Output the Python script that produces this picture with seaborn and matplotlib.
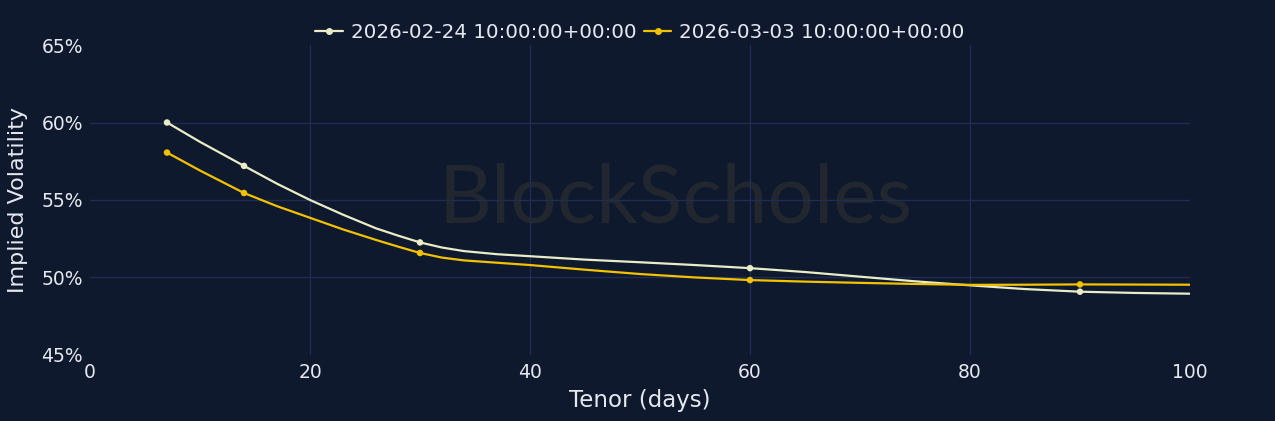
import pandas as pd
import matplotlib
matplotlib.use("Agg")
import matplotlib.pyplot as plt
from matplotlib.lines import Line2D
from matplotlib.ticker import FuncFormatter
import seaborn as sns

# series names
series_names = ["2026-02-24 10:00:00+00:00", "2026-03-03 10:00:00+00:00"]
colors = ["#e9ecc6", "#f2c200"]

# quoted tenors (markers)
tenors = [7, 14, 30, 60, 90]
iv_0224 = [60.0, 57.2, 52.26, 50.6, 49.08]
iv_0303 = [58.06, 55.45, 51.58, 49.83, 49.55]

# fitted term-structure curve
curve_days = [7, 10, 14, 17, 20, 23, 26, 28, 30, 32, 34, 37, 40, 45, 50, 55, 60,
              65, 70, 75, 80, 85, 90, 95, 100]
curve_0224 = [60.0, 58.75, 57.2, 56.05, 55.0, 54.05, 53.17, 52.7, 52.26, 51.93, 51.7, 51.5, 51.37,
              51.15, 50.98, 50.8, 50.6, 50.35, 50.05, 49.75, 49.49, 49.25, 49.08, 49.0, 48.95]
curve_0303 = [58.06, 56.9, 55.45, 54.6, 53.85, 53.1, 52.42, 51.99, 51.58, 51.28, 51.1, 50.95, 50.8,
              50.5, 50.22, 50.0, 49.83, 49.73, 49.65, 49.58, 49.52, 49.53, 49.55, 49.54, 49.53]

BG = "#0e192d"
GRID = "#1f2d54"
TXT = "#e6e8ee"


def main():
    curve = pd.concat([
        pd.DataFrame({"tenor": curve_days, "iv": curve_0224, "series": series_names[0]}),
        pd.DataFrame({"tenor": curve_days, "iv": curve_0303, "series": series_names[1]}),
    ])
    pts = pd.concat([
        pd.DataFrame({"tenor": tenors, "iv": iv_0224, "series": series_names[0]}),
        pd.DataFrame({"tenor": tenors, "iv": iv_0303, "series": series_names[1]}),
    ])
    palette = dict(zip(series_names, colors))

    sns.set_theme(style="dark")
    plt.rcParams["font.family"] = ["DejaVu Sans"]

    fig = plt.figure(figsize=(12.75, 4.21), dpi=100, facecolor=BG)
    ax = fig.add_axes([0.0706, 0.157, 0.8627, 0.736])
    ax.set_facecolor(BG)

    # faint watermark
    ax.text(0.532, 0.5, "BlockScholes", transform=ax.transAxes, ha="center", va="center",
            fontsize=59, family=["Lato", "DejaVu Sans"], fontweight="normal",
            color="#22262e", zorder=0)

    sns.lineplot(data=curve, x="tenor", y="iv", hue="series", palette=palette,
                 linewidth=1.6, legend=False, ax=ax, zorder=3)
    sns.scatterplot(data=pts, x="tenor", y="iv", hue="series", palette=palette,
                    s=22, edgecolor="none", legend=False, ax=ax, zorder=4)

    ax.set_xlim(0, 100)
    ax.set_ylim(45, 65)
    ax.set_xticks([0, 20, 40, 60, 80, 100])
    ax.set_yticks([45, 50, 55, 60, 65])
    ax.yaxis.set_major_formatter(FuncFormatter(lambda v, p: f"{v:.0f}%"))

    ax.grid(False)
    for v in [20, 40, 60, 80]:
        ax.axvline(v, color=GRID, linewidth=1, zorder=1)
    for v in [50, 55, 60]:
        ax.axhline(v, color=GRID, linewidth=1, zorder=1)
    for s in ax.spines.values():
        s.set_visible(False)

    ax.tick_params(axis="both", colors=TXT, labelsize=13.5, length=0)
    ax.tick_params(axis="x", pad=6)
    ax.tick_params(axis="y", pad=5)
    ax.set_xlabel("Tenor (days)", color=TXT, fontsize=16.5, labelpad=5)
    ax.set_ylabel("Implied Volatility", color=TXT, fontsize=16, labelpad=10)

    handles = [Line2D([0], [0], color=c, linewidth=1.6, marker="o", markersize=4) for c in colors]
    fig.legend(handles, series_names, loc="center", bbox_to_anchor=(0.502, 0.923), ncol=2,
               frameon=False, fontsize=14.3, labelcolor=TXT, handlelength=1.4,
               handletextpad=0.4, columnspacing=0.35)

    fig.savefig("out.png", dpi=100, facecolor=BG)
    plt.close(fig)


if __name__ == "__main__":
    main()
